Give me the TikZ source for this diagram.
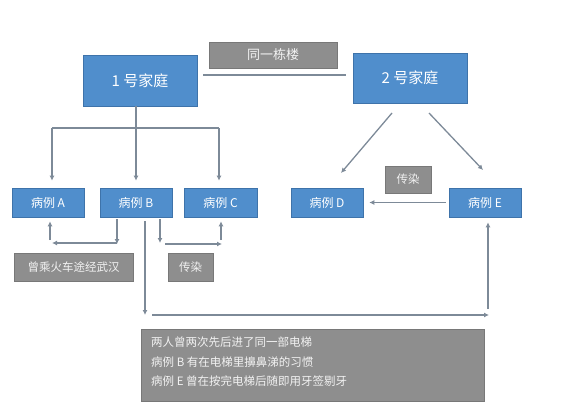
\documentclass[tikz,border=0pt]{standalone}
\usepackage{fontspec}
\setmainfont{Noto Sans CJK SC}
\usetikzlibrary{arrows.meta}
\definecolor{boxblue}{RGB}{80,142,204}
\definecolor{boxedge}{RGB}{62,115,170}
\definecolor{boxgray}{RGB}{142,142,142}
\definecolor{grayedge}{RGB}{120,120,120}
\definecolor{arrc}{RGB}{125,138,152}
\tikzset{
  bluebox/.style={fill=boxblue,draw=boxedge,line width=0.6pt,text=white,inner sep=0pt,font=\fontsize{12}{14}\selectfont},
  graybox/.style={fill=boxgray,draw=grayedge,line width=0.6pt,text=white!90!gray,inner sep=0pt,font=\fontsize{11.5}{13}\selectfont},
  conn/.style={draw=arrc,line width=1.3pt},
  arr/.style={conn,-{Latex[length=5pt,width=5pt]}},
}
\begin{document}
\begin{tikzpicture}[x=1pt,y=-1pt]
\useasboundingbox (0,0) rectangle (569,409);
% family boxes
\node[bluebox,minimum width=114pt,minimum height=51pt,font=\fontsize{15}{17}\selectfont] (f1) at (140,80.5) {1 号家庭};
\node[bluebox,minimum width=114pt,minimum height=50pt,font=\fontsize{15}{17}\selectfont] (f2) at (410,78) {2 号家庭};
\node[graybox,minimum width=128pt,minimum height=26pt,font=\fontsize{13}{15}\selectfont] (bld) at (273,55) {同一栋楼};
\coordinate (bl1) at (203,75);
\coordinate (bl2) at (346,75);
\draw[conn] (bl1) -- (bl2);
% case boxes
\node[bluebox,minimum width=72pt,minimum height=29pt] (A) at (48,202.5) {病例 A};
\node[bluebox,minimum width=72pt,minimum height=29pt] (B) at (136,202.5) {病例 B};
\node[bluebox,minimum width=73pt,minimum height=29pt] (C) at (220.5,202.5) {病例 C};
\node[bluebox,minimum width=72pt,minimum height=29pt] (D) at (327,202.5) {病例 D};
\node[bluebox,minimum width=72pt,minimum height=29pt] (E) at (485,202.5) {病例 E};
% gray labels
\node[graybox,minimum width=46pt,minimum height=27pt] (t2) at (408,179.5) {传染};
\node[graybox,minimum width=119pt,minimum height=28pt] (train) at (73.5,267) {曾乘火车途经武汉};
\node[graybox,minimum width=45pt,minimum height=28pt] (t1) at (190.5,267) {传染};
\node[graybox,minimum width=343pt,minimum height=72pt,anchor=north west] (note) at (141,329) {};
\node[anchor=north west,text=white!90!gray,font=\fontsize{11.5}{19.5}\selectfont,align=left,inner sep=0pt] (notetext) at (151,337) {两人曾两次先后进了同一部电梯\\病例 B 有在电梯里擤鼻涕的习惯\\病例 E 曾在按完电梯后随即用牙签剔牙};
% tree from family 1
\coordinate (j) at (136,128);
\coordinate (jA) at (52,128);
\coordinate (jC) at (219,128);
\draw[conn] (f1.south -| j) -- (j);
\draw[conn] (jA) -- (jC);
\draw[arr,shorten >=7pt] (jA) -- (jA |- A.north);
\draw[arr,shorten >=7pt] (j) -- (B.north);
\draw[arr,shorten >=7pt] (jC) -- (jC |- C.north);
% family 2 diagonals
\coordinate (d1s) at (392,113);
\coordinate (d1e) at (341,173);
\coordinate (d2s) at (429,113);
\coordinate (d2e) at (483,170);
\draw[arr] (d1s) -- (d1e);
\draw[arr] (d2s) -- (d2e);
% E to D
\draw[arr,shorten <=3pt,shorten >=6pt] (E.west) -- (D.east);
% B to A (train)
\coordinate (bl) at (117,217);
\coordinate (blb) at (117,244);
\coordinate (al) at (52,243);
\coordinate (au) at (50,240);
\draw[arr,shorten <=2pt] (bl) -- (blb);
\draw[arr] (117,243) -- (al);
\draw[arr,shorten >=4pt] (au) -- (au |- A.south);
% B to C (infect)
\coordinate (br) at (160,217);
\coordinate (brb) at (160,243);
\coordinate (cl) at (222,244);
\coordinate (cu) at (221,240);
\draw[arr,shorten <=2pt] (br) -- (brb);
\draw[arr] (165,244) -- (cl);
\draw[arr,shorten >=4pt] (cu) -- (cu |- C.south);
% B to E (elevator)
\coordinate (bm) at (145,217);
\coordinate (bmb) at (145,315);
\coordinate (hs) at (152,315);
\coordinate (he) at (489,315);
\coordinate (eu) at (488,309);
\draw[arr,shorten <=4pt] (bm) -- (bmb);
\draw[arr] (hs) -- (he);
\draw[arr,shorten >=5pt] (eu) -- (eu |- E.south);
\end{tikzpicture}
\end{document}
